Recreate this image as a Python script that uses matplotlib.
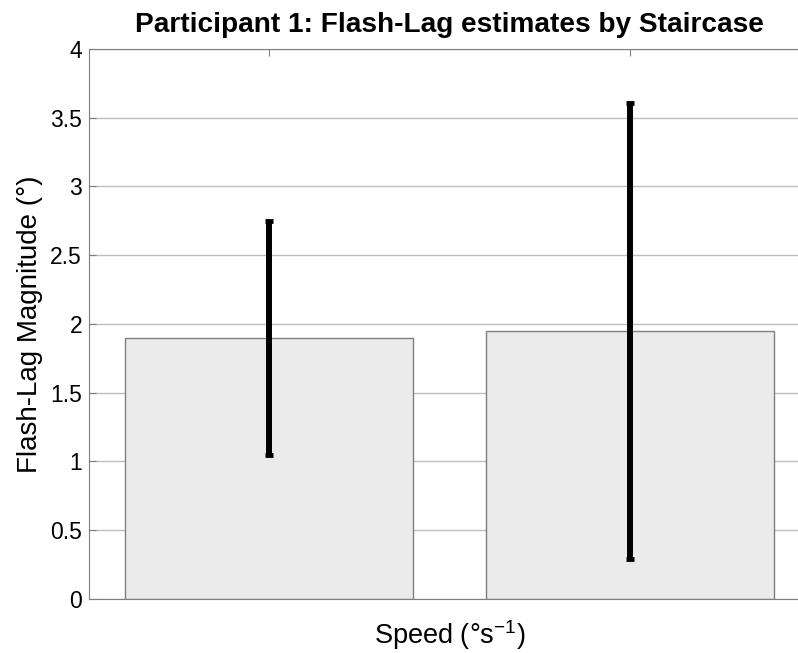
import matplotlib.pyplot as plt
import numpy as np

plt.rcParams['font.family'] = ['Liberation Sans', 'DejaVu Sans']
plt.rcParams['mathtext.fontset'] = 'custom'
plt.rcParams['mathtext.rm'] = 'Liberation Sans'
plt.rcParams['mathtext.it'] = 'Liberation Sans:italic'

# Staircase estimates per speed condition
conditions = [1, 2]
means = [1.90, 1.95]
err_low = [1.05, 0.29]
err_high = [2.75, 3.61]

means = np.array(means)
lower = means - np.array(err_low)
upper = np.array(err_high) - means

fig = plt.figure(figsize=(7.98, 6.53), dpi=100)
# axes run a little past the right edge of the figure
ax = fig.add_axes([0.1115, 0.0827, 0.9035, 0.8423])

ax.set_axisbelow(True)
ax.yaxis.grid(True, color='#bdbdbd', linewidth=1.0)

ax.bar(conditions, means, width=0.8, color='#ebebeb', edgecolor='#7f7f7f', linewidth=1.0, zorder=2)
ax.errorbar(conditions, means, yerr=[lower, upper], fmt='none', ecolor='black',
            elinewidth=4.3, capsize=2.6, capthick=3.5, zorder=3)

ax.set_xlim(0.5, 2.5)
ax.set_ylim(0, 4)
ax.set_xticks(conditions)
ax.set_yticks(np.arange(0, 4.01, 0.5))
ax.set_yticklabels(['0', '0.5', '1', '1.5', '2', '2.5', '3', '3.5', '4'])
ax.tick_params(axis='both', direction='in', length=5, color='#7f7f7f', labelsize=16.5,
               pad=5, top=True, labelbottom=False)
for side in ['left', 'bottom', 'top', 'right']:
    ax.spines[side].set_color('#7f7f7f')

ax.set_title('Participant 1: Flash-Lag estimates by Staircase', fontsize=20.2, fontweight='bold', pad=12)
ax.set_ylabel('Flash-Lag Magnitude (°)', fontsize=20, labelpad=5)
ax.set_xlabel(r'Speed (°s$^{\mathregular{-1}}$)', fontsize=19.5, labelpad=14)

fig.savefig('out.png', dpi=100)
